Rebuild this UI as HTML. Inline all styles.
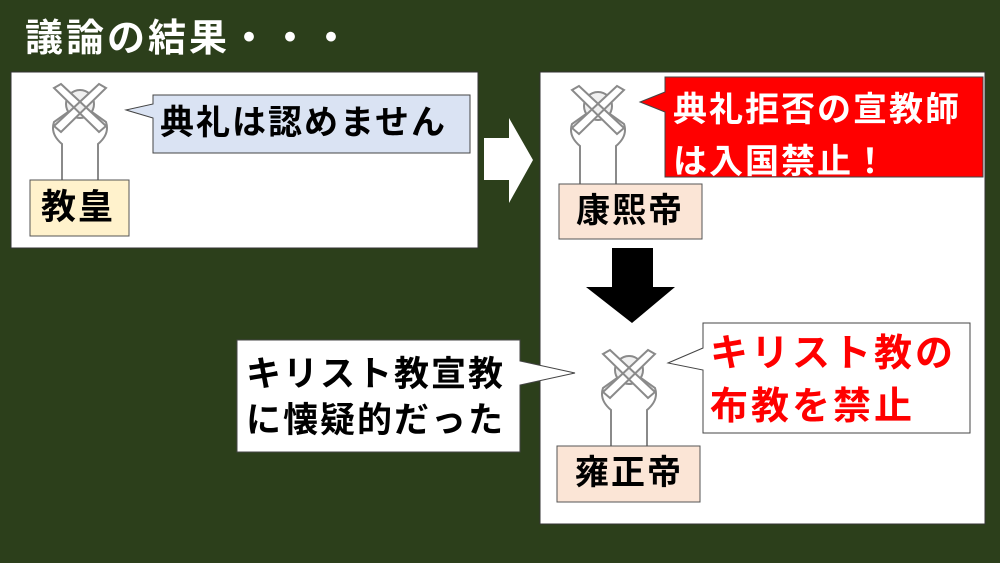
<!DOCTYPE html>
<html><head><meta charset="utf-8"><style>
body{margin:0;width:1000px;height:563px;background:#2c3f1b;position:relative;overflow:hidden;font-family:"Liberation Sans","Noto Sans CJK JP",sans-serif;}
.t{position:absolute;font-weight:bold;white-space:nowrap;line-height:1;letter-spacing:2px;}
</style></head><body>
<svg width="1000" height="563" style="position:absolute;left:0;top:0">
<defs>
<g id="fig" fill="#fff" stroke="#8a8a8a" stroke-width="2">
<path d="M14,100 L14,62 Q2,52 6,40 L20,30 L44,30 L58,40 Q62,52 50,62 L50,100" />
<circle cx="32" cy="22" r="14" fill="#f0f0f0"/>
<path d="M6,6 L13,2 L58,44 L51,50 Z M58,6 L51,2 L6,44 L13,50 Z" fill="#fff"/>
</g>
</defs>
<rect x="11" y="72" width="467" height="176" fill="#fff" stroke="#333"/>
<rect x="540" y="72" width="445" height="452" fill="#fff" stroke="#333"/>
<use href="#fig" x="48" y="82"/>
<use href="#fig" x="566" y="84"/>
<use href="#fig" x="597" y="348"/>
<path d="M153,95 H470 V153 H153 V118 L126,110 L153,104 Z" fill="#dae3f3" stroke="#444"/>
<path d="M665,77 H983 V177 H665 V112 L640,102 L665,92 Z" fill="#ff0000" stroke="#444"/>
<path d="M237,340 H520 V361 L575,373 L520,385 V452 H237 Z" fill="#fff" stroke="#444"/>
<path d="M703,323 H970 V433 H703 V370 L668,363 L703,348 Z" fill="#fff" stroke="#444"/>
<path d="M484,138 H509 V118 L533,160 L509,203 V180 H484 Z" fill="#fff"/>
<path d="M612,248 H653 V287 H675 L632,323 L586,287 H612 Z" fill="#000"/>
<rect x="30" y="180" width="99" height="56" fill="#fff2cc" stroke="#555"/>
<rect x="559" y="184" width="143" height="55" fill="#fbe5d6" stroke="#555"/>
<rect x="557" y="446" width="143" height="56" fill="#fbe5d6" stroke="#555"/>
</svg>
<div class="t" style="left:25px;top:20px;font-size:38px;color:#fff;letter-spacing:3px">議論の結果・・・</div>
<div class="t" style="left:160px;top:106px;font-size:34px;color:#000">典礼は認めません</div>
<div class="t" style="left:41px;top:190px;font-size:35px;color:#000">教皇</div>
<div class="t" style="left:673px;top:84px;font-size:34px;color:#fff;line-height:52px">典礼拒否の宣教師<br>は入国禁止！</div>
<div class="t" style="left:576px;top:194px;font-size:34px;color:#000">康熙帝</div>
<div class="t" style="left:246px;top:352px;font-size:35px;color:#000;line-height:46px">キリスト教宣教<br>に懐疑的だった</div>
<div class="t" style="left:710px;top:328px;font-size:38px;color:#ff0000;line-height:53px;letter-spacing:3px">キリスト教の<br>布教を禁止</div>
<div class="t" style="left:575px;top:456px;font-size:34px;color:#000">雍正帝</div>
</body></html>
